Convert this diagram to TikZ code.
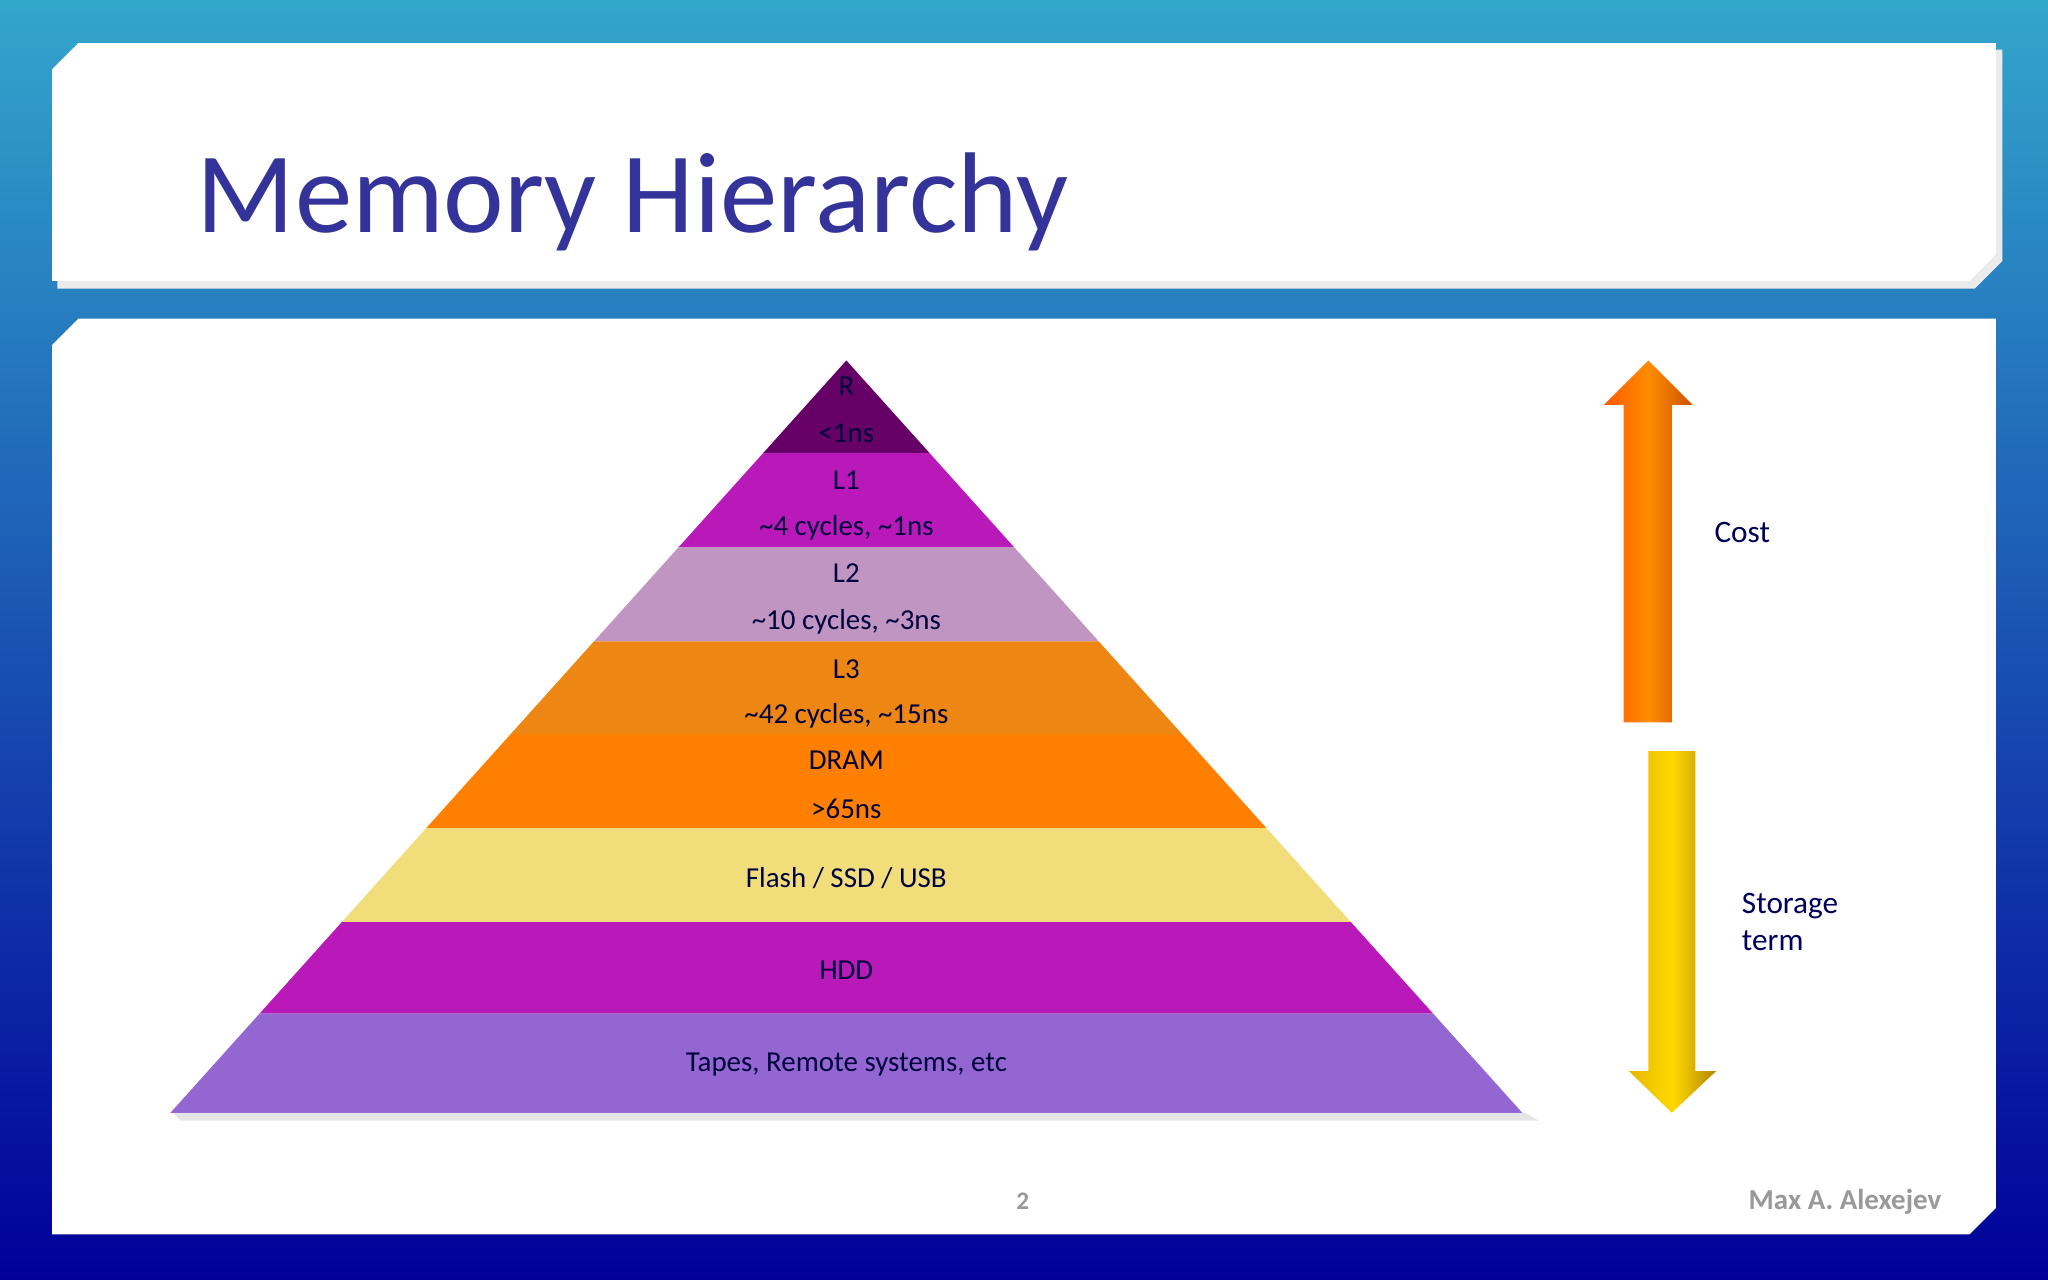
\documentclass[tikz,border=0pt]{standalone}
\usepackage{fontspec}
\setmainfont{Carlito}
\begin{document}
\begin{tikzpicture}[x=0.01cm,y=-0.01cm,
  lay/.style={draw=none},
  lbl/.style={text=black!20!blue!30!black, font=\fontsize{6.3}{7}\selectfont, inner sep=0},
  side/.style={text=black!10!blue!40!black, font=\fontsize{6.8}{8}\selectfont, inner sep=0, anchor=west, align=left}]
\useasboundingbox (0,0) rectangle (1568,980);
\shade[top color=blue!25!cyan!75!white!80!black, bottom color=blue!60!black] (0,0) rectangle (1568,980);
\fill[black!8] (62,38) -- (1533,38) -- (1533,200) -- (1512,221) -- (44,221) -- (44,58) -- cycle;
\fill[white] (60,33) -- (1528,33) -- (1528,195) -- (1508,215) -- (40,215) -- (40,53) -- cycle;
\node[anchor=base west, inner sep=0, text=blue!50!black!80, font=\fontsize{25}{28}\selectfont] (title) at (150,178) {Memory Hierarchy};
\fill[white] (60,244) -- (1528,244) -- (1528,925) -- (1508,945) -- (40,945) -- (40,264) -- cycle;
% pyramid
\def\hw#1{#1*0.8984}
\foreach \ya/\yb/\c in {276/347/{violet!80!black}, 347/419/{violet!60!magenta!90!white}, 419/491/{violet!40!white!85!gray}, 491/562/{orange!70!brown!95!yellow}, 562/634/{orange!95!red!95!yellow}, 634/706/{yellow!60!brown!60!white}, 706/776/{violet!60!magenta!90!white}, 776/852/{violet!60!blue!60!white}}{
  \fill[\c] ({648-(\ya-276)*0.8984},\ya) -- ({648+(\ya-276)*0.8984},\ya) -- ({648+(\yb-276)*0.8984},\yb) -- ({648-(\yb-276)*0.8984},\yb) -- cycle;
}
\fill[black!20,opacity=0.5] (1168,852) -- (1178,858) -- (138,858) -- (133,852) -- cycle;
\node[lbl] (r1) at (648,296) {R};
\node[lbl] (r2) at (648,332) {<1ns};
\node[lbl] (l1a) at (648,368) {L1};
\node[lbl] (l1b) at (648,404) {\textasciitilde4 cycles, \textasciitilde1ns};
\node[lbl] (l2a) at (648,439) {L2};
\node[lbl] (l2b) at (648,476) {\textasciitilde10 cycles, \textasciitilde3ns};
\node[lbl] (l3a) at (648,512) {L3};
\node[lbl] (l3b) at (648,548) {\textasciitilde42 cycles, \textasciitilde15ns};
\node[lbl] (d1) at (648,582) {DRAM};
\node[lbl] (d2) at (648,619) {>65ns};
\node[lbl] (fl) at (648,672) {Flash / SSD / USB};
\node[lbl] (hd) at (648,743) {HDD};
\node[lbl] (tp) at (648,815) {Tapes, Remote systems, etc};
% arrows
\shade[left color=orange!70!red, right color=orange!80!red!80!black, middle color=orange!90!yellow]
  (1262,276) -- (1296,310) -- (1280,310) -- (1280,553) -- (1243,553) -- (1243,310) -- (1228,310) -- cycle;
\shade[left color=yellow!60!orange!90!black, right color=yellow!50!orange!70!black, middle color=yellow!70!orange]
  (1262,575) -- (1298,575) -- (1298,820) -- (1314,820) -- (1280,852) -- (1247,820) -- (1262,820) -- cycle;
\node[side] (cost) at (1312,408) {Cost};
\node[side] (st) at (1333,706) {Storage\\term};
\node[inner sep=0, text=black!40, font=\bfseries\fontsize{5.5}{6}\selectfont] (pg) at (783,920) {2};
\node[inner sep=0, anchor=east, text=black!40, font=\bfseries\fontsize{6.3}{7}\selectfont] (au) at (1487,920) {Max A. Alexejev};
\end{tikzpicture}
\end{document}
